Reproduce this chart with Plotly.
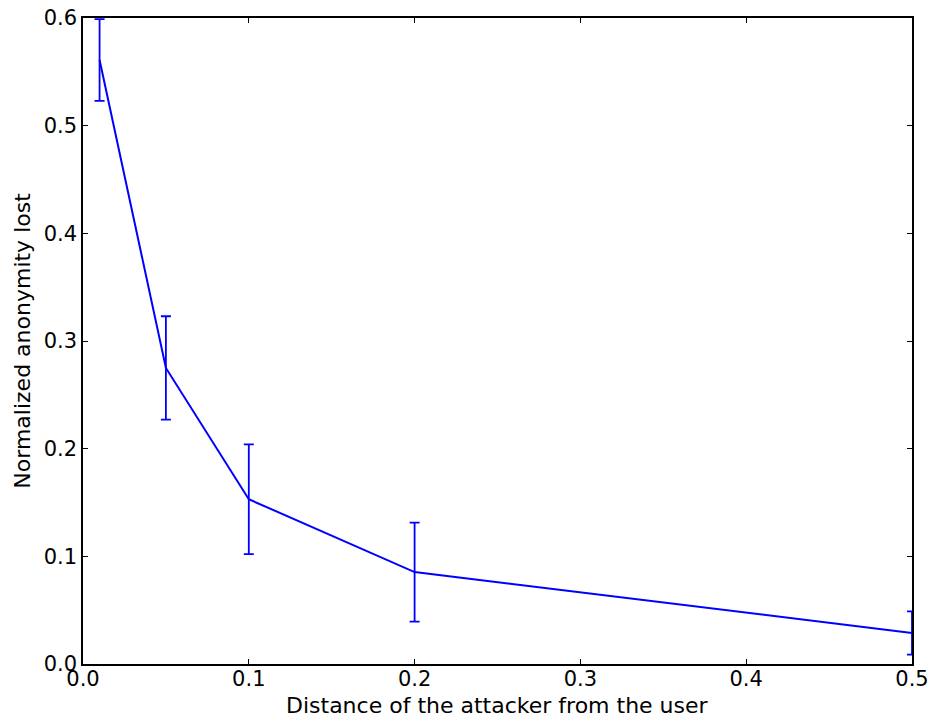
import plotly.graph_objects as go

distance = [0.01, 0.05, 0.1, 0.2, 0.5]
anonymity_lost = [0.561, 0.275, 0.153, 0.0854, 0.0288]
error = [0.038, 0.048, 0.051, 0.046, 0.020]

x_ticks = [0.0, 0.1, 0.2, 0.3, 0.4, 0.5]
y_ticks = [0.0, 0.1, 0.2, 0.3, 0.4, 0.5, 0.6]

fig = go.Figure()
fig.add_trace(go.Scatter(
    x=distance, y=anonymity_lost, mode="lines",
    line=dict(color="#0000ff", width=2),
    error_y=dict(type="data", array=error, visible=True, color="#0000ff",
                 thickness=1.8, width=5),
    cliponaxis=False,
))

axis_common = dict(
    showline=True, linecolor="black", linewidth=1.5, mirror="ticks",
    ticks="inside", ticklen=5, tickwidth=1, tickcolor="black",
    showgrid=False, zeroline=False, automargin=False,
    tickfont=dict(family="DejaVu Sans", size=21, color="black"),
)

fig.update_layout(
    width=935, height=722,
    margin=dict(l=83, r=23, t=18, b=58),
    plot_bgcolor="white", paper_bgcolor="white",
    showlegend=False,
    xaxis=dict(range=[0, 0.5], tickvals=x_ticks,
               ticktext=[f"{v:.1f}" for v in x_ticks],
               ticklabelstandoff=-5, **axis_common),
    yaxis=dict(range=[0, 0.6], tickvals=y_ticks,
               ticktext=[f"{v:.1f}" for v in y_ticks], **axis_common),
    annotations=[
        dict(text="Distance of the attacker from the user", xref="paper", yref="paper",
             x=0.5, y=-0.065, xanchor="center", yanchor="middle", showarrow=False,
             font=dict(family="DejaVu Sans", size=22, color="black")),
        dict(text="Normalized anonymity lost", xref="paper", yref="paper",
             x=-0.074, y=0.5, xanchor="center", yanchor="middle", showarrow=False,
             textangle=-90,
             font=dict(family="DejaVu Sans", size=22, color="black")),
    ],
)

fig.write_html("out.html")
